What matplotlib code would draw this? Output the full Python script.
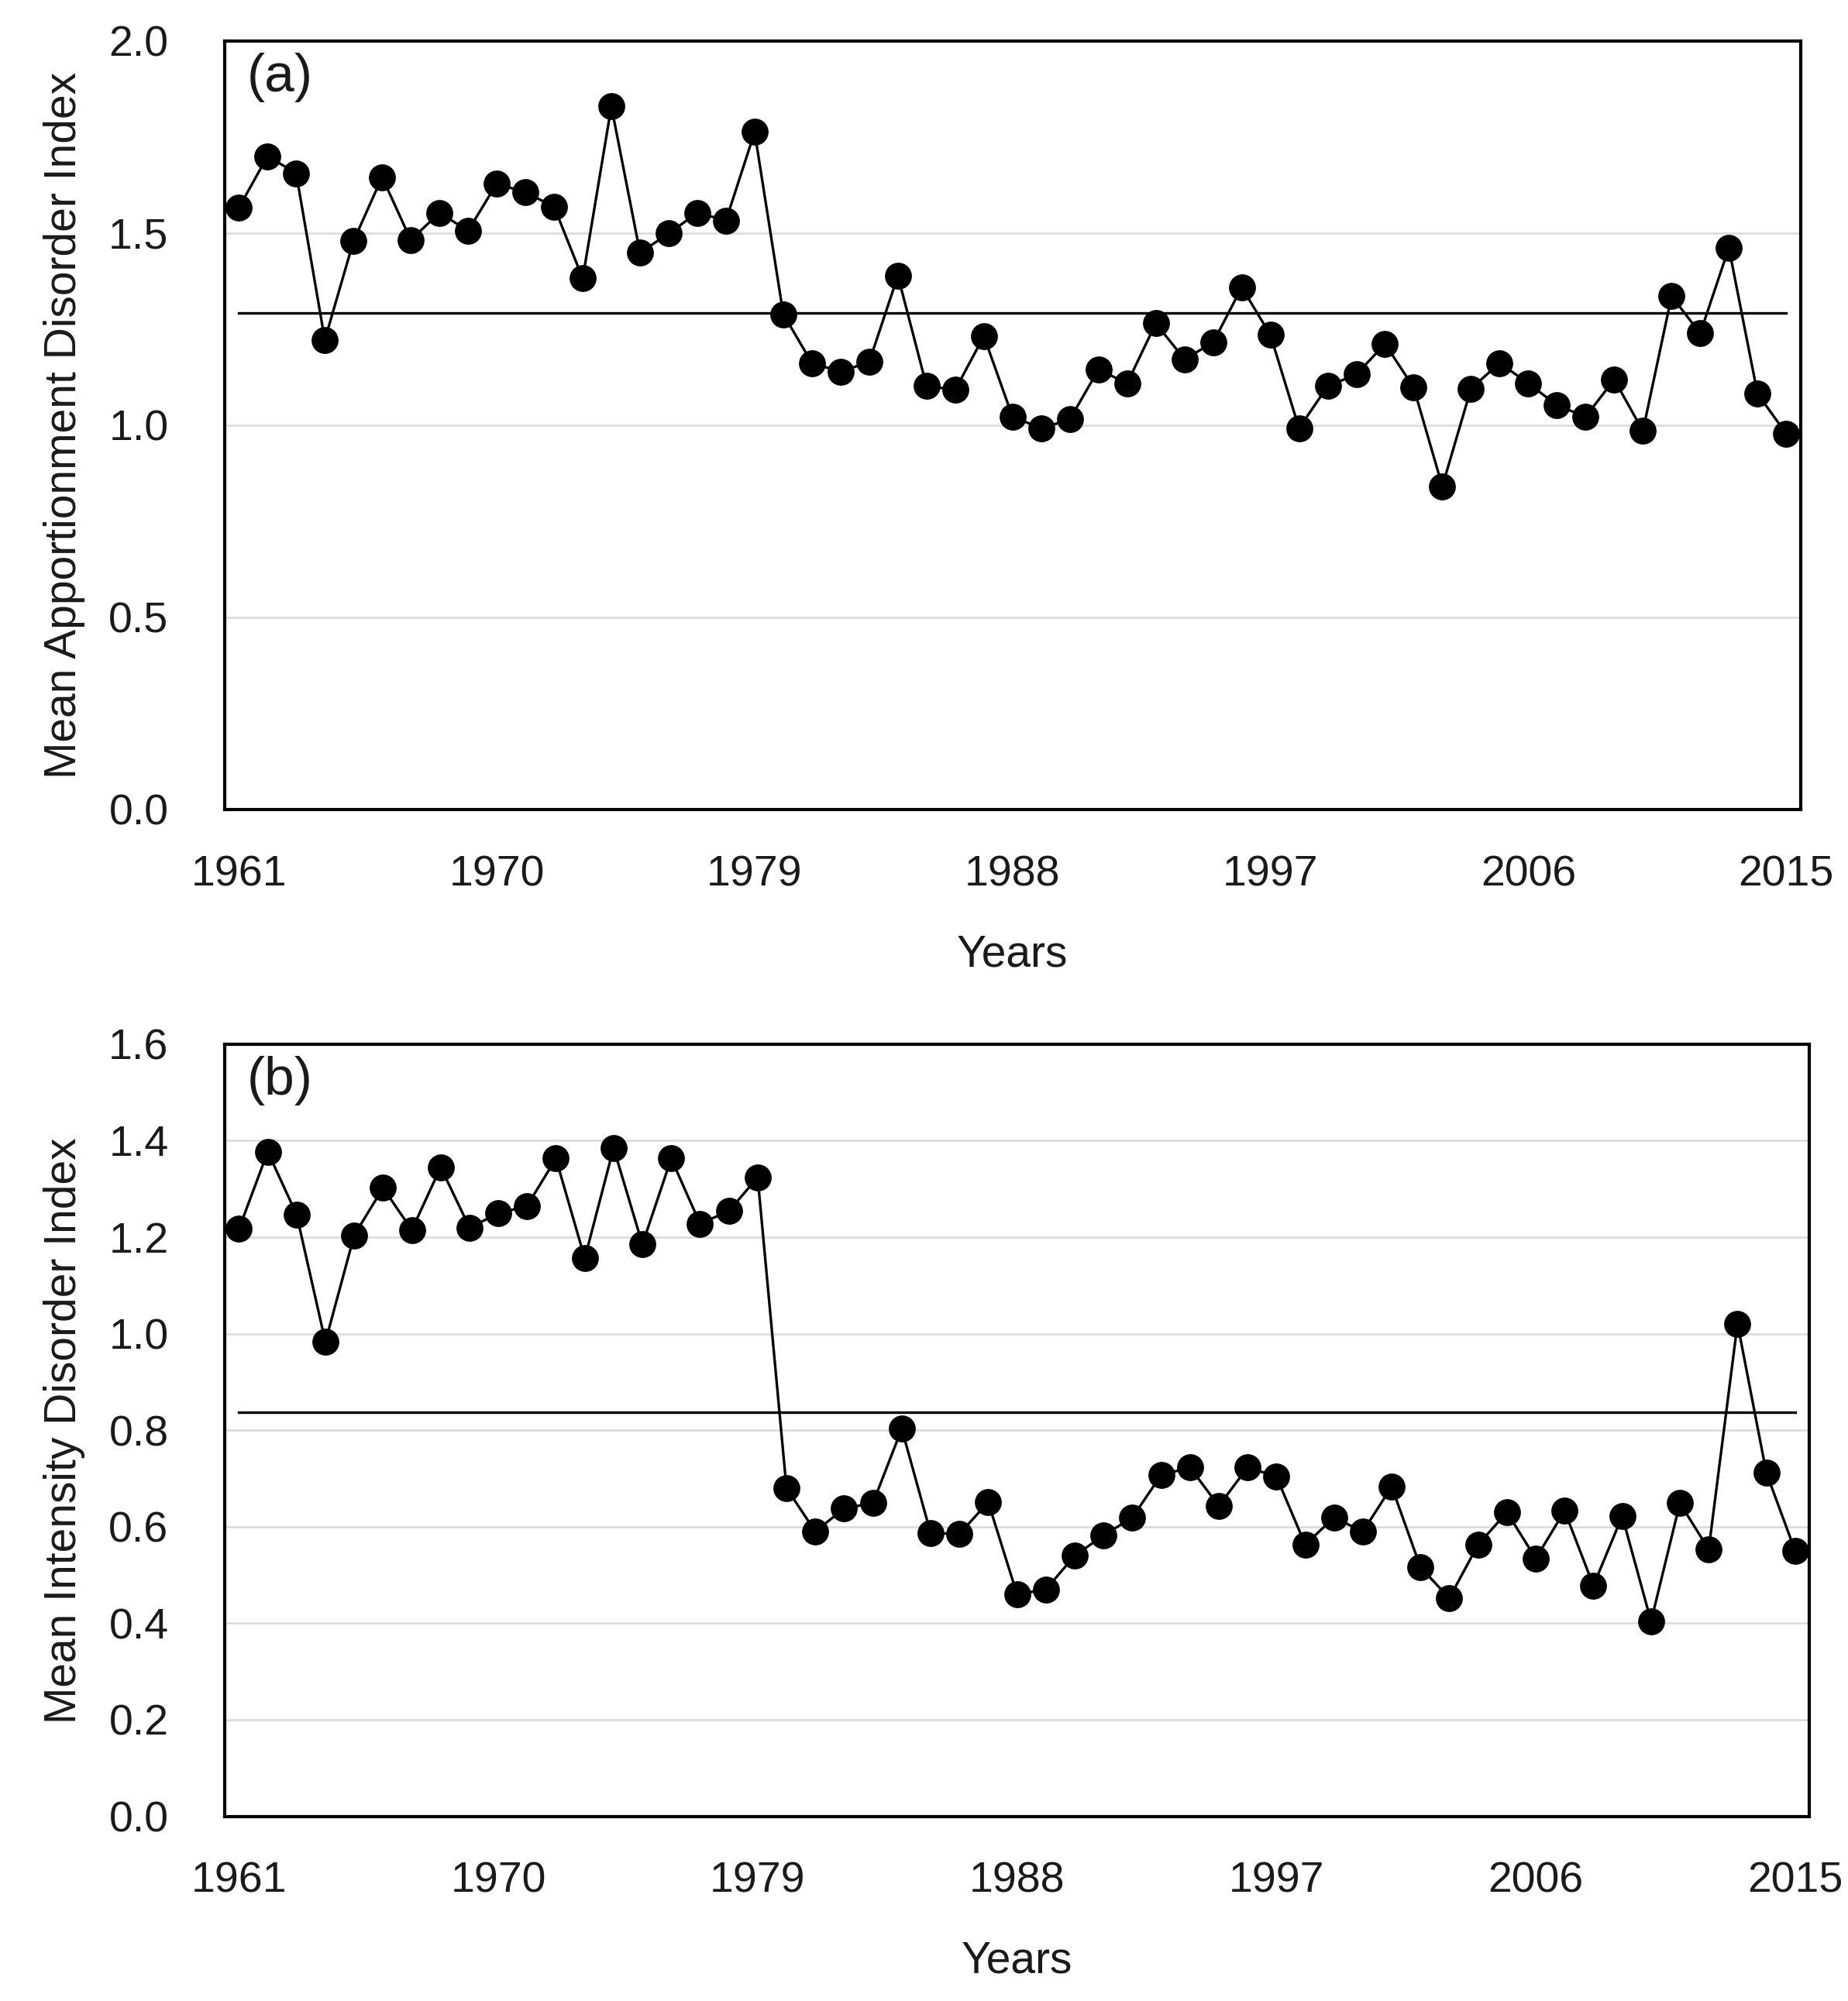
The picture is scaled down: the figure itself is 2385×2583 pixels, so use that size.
import matplotlib
matplotlib.use("Agg")
import matplotlib.pyplot as plt
import numpy as np

plt.rcParams['font.family'] = ['Liberation Sans', 'DejaVu Sans']

years = list(range(1961, 2016))

apportionment = [1.566, 1.70, 1.656, 1.222, 1.479, 1.646, 1.482, 1.553, 1.506, 1.629,
                 1.606, 1.569, 1.382, 1.83, 1.449, 1.499, 1.553, 1.533, 1.763, 1.289,
                 1.162, 1.139, 1.165, 1.389, 1.102, 1.092, 1.232, 1.022, 0.992, 1.015,
                 1.145, 1.109, 1.265, 1.172, 1.215, 1.359, 1.235, 0.992, 1.102, 1.132,
                 1.212, 1.098, 0.841, 1.095, 1.162, 1.109, 1.052, 1.022, 1.119, 0.985,
                 1.336, 1.239, 1.462, 1.082, 0.978]
apportionment_mean = 1.292

intensity = [1.217, 1.377, 1.247, 0.983, 1.204, 1.302, 1.215, 1.345, 1.220, 1.249,
             1.265, 1.363, 1.156, 1.385, 1.185, 1.363, 1.228, 1.254, 1.324, 0.680,
             0.590, 0.638, 0.649, 0.803, 0.587, 0.585, 0.651, 0.460, 0.470, 0.540,
             0.582, 0.619, 0.707, 0.723, 0.643, 0.723, 0.704, 0.563, 0.619, 0.590,
             0.683, 0.516, 0.452, 0.563, 0.630, 0.534, 0.633, 0.478, 0.622, 0.404,
             0.649, 0.553, 1.021, 0.712, 0.550]
intensity_mean = 0.837

tick_years = [1961, 1970, 1979, 1988, 1997, 2006, 2015]

panels = [
    dict(values=apportionment, mean=apportionment_mean, label="(a)",
         ylabel="Mean Apportionment Disorder Index",
         yticks=[0.0, 0.5, 1.0, 1.5, 2.0], ylim=(0, 2.0),
         rect=[0.1215, 0.5955, 0.8528, 0.3840]),
    dict(values=intensity, mean=intensity_mean, label="(b)",
         ylabel="Mean Intensity Disorder Index",
         yticks=[0.0, 0.2, 0.4, 0.6, 0.8, 1.0, 1.2, 1.4, 1.6], ylim=(0, 1.6),
         rect=[0.1215, 0.0923, 0.8577, 0.3859]),
]

fig = plt.figure(figsize=(23.85, 25.83), dpi=100)
FS = 40
idx = np.arange(len(years))

for p in panels:
    ax = fig.add_axes(p['rect'])
    ax.set_xlim(-0.5, len(years) - 0.5)
    ax.set_ylim(*p['ylim'])
    ax.set_yticks(p['yticks'])
    ax.set_yticklabels([f"{t:.1f}" for t in p['yticks']])
    ax.set_xticks([years.index(y) for y in tick_years])
    ax.set_xticklabels([str(y) for y in tick_years])
    ax.grid(axis='y', color='#d9d9d9', linewidth=1.8, zorder=0)
    ax.set_axisbelow(True)
    ax.plot([idx[0], idx[-1]], [p['mean'], p['mean']], color='black',
            linewidth=2.4, zorder=2)
    ax.plot(idx, p['values'], color='black', linewidth=2.4, marker='o',
            markersize=24, markerfacecolor='black', markeredgecolor='black',
            zorder=3, clip_on=False)
    for s in ax.spines.values():
        s.set_linewidth(3)
        s.set_color('black')
    ax.tick_params(axis='both', length=0, labelsize=FS, colors='#1a1a1a')
    ax.tick_params(axis='x', pad=42)
    ax.tick_params(axis='y', pad=52)
    ax.set_xlabel("Years", fontsize=41, labelpad=36, color='#1a1a1a')
    ax.set_ylabel(p['ylabel'], fontsize=41, labelpad=22, color='#1a1a1a')
    ax.text(0.014, 0.985, p['label'], transform=ax.transAxes, fontsize=50,
            va='top', ha='left', color='#1a1a1a')

fig.savefig("out.png", dpi=100)
